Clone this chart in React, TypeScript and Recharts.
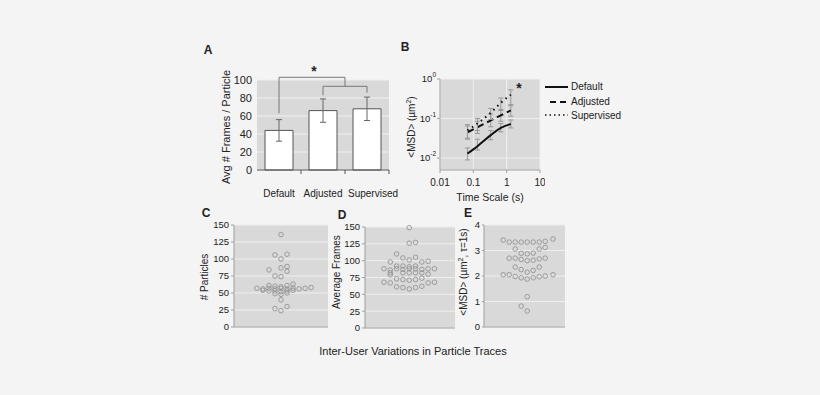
import React from "react";
import {
  Bar,
  BarChart,
  CartesianGrid,
  ErrorBar,
  Line,
  LineChart,
  ReferenceLine,
  Scatter,
  ScatterChart,
  XAxis,
  YAxis,
} from "recharts";

const FONT = '"Liberation Sans", Arial, Helvetica, sans-serif';
const PLOT_BG = "#d9d9d9";
const GRID = "#efefef";
const INK = "#222";

// Panel A: average frames per particle
const methods = ["Default", "Adjusted", "Supervised"];
const avgFrames = [44, 66, 68];
const avgFramesErr = [12, 13, 13];
const framesTicks = [0, 20, 40, 60, 80, 100];

// Panel B: MSD vs time scale
const timeScale = [0.0667, 0.133, 0.333, 0.667, 1.333];
const msdDefault = [0.013, 0.02, 0.038, 0.058, 0.073];
const msdDefaultLow = [0.009, 0.016, 0.029, 0.046, 0.058];
const msdDefaultHigh = [0.018, 0.03, 0.05, 0.075, 0.092];
const msdAdjusted = [0.045, 0.06, 0.09, 0.12, 0.16];
const msdAdjustedLow = [0.03, 0.042, 0.062, 0.085, 0.115];
const msdAdjustedHigh = [0.065, 0.085, 0.13, 0.17, 0.225];
const msdSupervised = [0.05, 0.075, 0.14, 0.25, 0.4];
const msdSupervisedLow = [0.032, 0.05, 0.095, 0.16, 0.21];
const msdSupervisedHigh = [0.07, 0.1, 0.18, 0.33, 0.53];
const timeTicks = [0.01, 0.1, 1, 10];
const msdTicks = [0.01, 0.1, 1];

// Panel C: number of particles per user (swarm offset, value)
const particlesOffset = [0, -1, 0, 1, -2, 0, 1, 1, -1, 0, -2, -1, 0, 1, 2, -4, -3, -2, -1, 0, 1, 2, 3, 4, 5, -3, -2, -1, 0, 1, 2, -1, 0, 1, 0, -1, 0, 1];
const particlesCount = [136, 106, 100, 107, 84, 87, 89, 82, 75, 74, 61, 60, 59, 61, 63, 57, 56, 57, 56, 57, 56, 57, 56, 57, 58, 54, 53, 53, 52, 53, 54, 49, 48, 50, 40, 27, 24, 30];
const particlesTicks = [0, 25, 50, 75, 100, 125, 150];

// Panel D: average frames per user
const framesOffset = [0, 0, 1, -2, -1, 0, 1, -3, 2, 3, -2, -1, 0, 1, -4, -3, -2, -1, 0, 1, 2, 3, 4, -3, -1, 0, 1, 2, -3, 3, -2, -1, 0, 1, 2, -4, -3, 3, 4, -2, -1, 0, 1, 2];
const framesPerUser = [149, 126, 127, 110, 104, 101, 105, 98, 98, 99, 92, 92, 91, 92, 88, 86, 88, 87, 88, 88, 87, 88, 88, 82, 82, 82, 82, 82, 79, 80, 73, 72, 71, 72, 74, 68, 67, 67, 68, 61, 60, 58, 60, 62];
const framesUserTicks = [0, 25, 50, 75, 100, 125, 150];

// Panel E: MSD at tau = 1 s per user
const msdOffset = [-4, -3, -2, -1, 0, 1, 2, 3, 4.3, -2, -1, 0, 1, 2, 3, -3, -2, -1, 0, 1, 2, 3, -2, -1, 0, 1, 2, -4, -3, -2, -1, 0, 1, 2, 3, 4.3, 0, -1, 0];
const msdPerUser = [3.41, 3.33, 3.33, 3.33, 3.33, 3.33, 3.33, 3.36, 3.45, 3.06, 2.89, 2.87, 2.9, 3.06, 3.12, 2.7, 2.7, 2.65, 2.6, 2.62, 2.67, 2.7, 2.35, 2.25, 2.15, 2.22, 2.35, 2.05, 2.05, 1.98, 1.93, 1.88, 1.93, 1.97, 2.0, 2.05, 1.19, 0.82, 0.63];
const msdUserTicks = [0, 1, 2, 3, 4];

const barData = methods.map((name, i) => ({ idx: i, name, frames: avgFrames[i], err: avgFramesErr[i] }));

const msdData = timeScale.map((t, i) => ({
  t,
  def: msdDefault[i],
  eDef: [msdDefault[i] - msdDefaultLow[i], msdDefaultHigh[i] - msdDefault[i]],
  adj: msdAdjusted[i],
  eAdj: [msdAdjusted[i] - msdAdjustedLow[i], msdAdjustedHigh[i] - msdAdjusted[i]],
  sup: msdSupervised[i],
  eSup: [msdSupervised[i] - msdSupervisedLow[i], msdSupervisedHigh[i] - msdSupervised[i]],
}));

const swarm = (offsets: number[], values: number[]) => offsets.map((x, i) => ({ x, y: values[i] }));

function Txt({ x, y, children, size = 10, bold = false, rotate = false, anchor = "center" }: any) {
  const tx = anchor === "left" ? "0" : "-50%";
  return (
    <div
      style={{
        position: "absolute",
        left: x,
        top: y,
        transform: `translate(${tx}, -50%)${rotate ? " rotate(-90deg)" : ""}`,
        fontSize: size,
        fontWeight: bold ? 700 : 400,
        whiteSpace: "nowrap",
        color: INK,
        lineHeight: 1,
      }}
    >
      {children}
    </div>
  );
}

function MethodTick({ x, y, payload }: any) {
  const v = payload.value;
  if (v % 1 !== 0) return <line x1={x} x2={x} y1={y} y2={y + 4} stroke="#555" />;
  return (
    <text x={x + (v === 2 ? 6 : 0)} y={y + 27} textAnchor="middle" fontSize={10} fill={INK} fontFamily={FONT}>
      {methods[v]}
    </text>
  );
}

function TimeTick({ x, y, payload }: any) {
  return (
    <text x={x} y={y + 13} textAnchor="middle" fontSize={10} fill={INK} fontFamily={FONT}>
      {payload.value}
    </text>
  );
}

function PowTick({ x, y, payload }: any) {
  const exp = Math.round(Math.log10(payload.value));
  return (
    <text x={x} y={y + 3} textAnchor="end" fontSize={9.5} fill={INK} fontFamily={FONT}>
      10
      <tspan dy={-5} fontSize={6.5}>
        {exp}
      </tspan>
    </text>
  );
}

const ring = (p: any) => <circle cx={p.cx} cy={p.cy} r={2.3} fill="none" stroke="#8c8c8c" strokeWidth={0.8} />;

const bracket = { stroke: "#777", strokeWidth: 1, ifOverflow: "visible" as const };

function SwarmPanel({ left, top, width, height, data, domain, ticks, tickSize = 3 }: any) {
  return (
    <div style={{ position: "absolute", left, top }}>
      <ScatterChart width={width} height={height + 8} margin={{ top: 8, right: 0, bottom: 8, left: 0 }}>
        <CartesianGrid fill={PLOT_BG} stroke={GRID} vertical={false} />
        <XAxis type="number" dataKey="x" domain={domain} allowDataOverflow tick={false} tickLine={false} axisLine={{ stroke: "#a0a0a0" }} height={1} />
        <YAxis
          type="number"
          dataKey="y"
          domain={[ticks[0], ticks[ticks.length - 1]]}
          ticks={ticks}
          interval={0}
          width={30}
          tick={{ fontSize: 9.5, fill: INK, fontFamily: FONT }}
          tickSize={tickSize}
          tickMargin={2}
          tickLine={{ stroke: "#a0a0a0" }}
          axisLine={{ stroke: "#a0a0a0" }}
        />
        <Scatter data={data} shape={ring} isAnimationActive={false} />
      </ScatterChart>
    </div>
  );
}

export default function App() {
  return (
    <div
      style={{
        position: "fixed",
        left: 0,
        top: 0,
        width: 820,
        height: 395,
        background: "#f4f4f4",
        fontFamily: FONT,
        overflow: "hidden",
      }}
    >
      {/* A */}
      <Txt x={208} y={50} size={12} bold>A</Txt>
      <Txt x={226} y={127} size={11} rotate>Avg # Frames / Particle</Txt>
      <div style={{ position: "absolute", left: 217, top: 68 }}>
        <BarChart width={182} height={137} data={barData} margin={{ top: 12, right: 10, bottom: 0, left: 0 }}>
          <CartesianGrid fill={PLOT_BG} stroke={GRID} vertical={false} />
          <XAxis
            type="number"
            dataKey="idx"
            domain={[-0.5, 2.5]}
            ticks={[0, 0.5, 1, 1.5, 2, 2.5]}
            tick={<MethodTick />}
            tickSize={0}
            tickMargin={0}
            tickLine={false}
            axisLine={{ stroke: "#555" }}
            height={35}
          />
          <YAxis
            domain={[0, 100]}
            ticks={framesTicks}
            interval={0}
            width={40}
            tick={{ fontSize: 11, fill: INK, fontFamily: FONT }}
            tickSize={0}
            tickMargin={5}
            axisLine={false}
          />
          <Bar dataKey="frames" fill="#fff" stroke="#555" strokeWidth={1} barSize={28} isAnimationActive={false}>
            <ErrorBar dataKey="err" width={3} stroke="#666" strokeWidth={1} direction="y" />
          </Bar>
          <ReferenceLine segment={[{ x: 0, y: 63 }, { x: 0, y: 103 }]} {...bracket} />
          <ReferenceLine segment={[{ x: 0, y: 103 }, { x: 1.5, y: 103 }]} {...bracket} />
          <ReferenceLine segment={[{ x: 1.5, y: 103 }, { x: 1.5, y: 93 }]} {...bracket} />
          <ReferenceLine segment={[{ x: 1, y: 93 }, { x: 2, y: 93 }]} {...bracket} />
          <ReferenceLine segment={[{ x: 1, y: 93 }, { x: 1, y: 83 }]} {...bracket} />
          <ReferenceLine segment={[{ x: 2, y: 93 }, { x: 2, y: 86 }]} {...bracket} />
        </BarChart>
      </div>
      <Txt x={314} y={71} size={14} bold>*</Txt>

      {/* B */}
      <Txt x={405} y={47} size={12} bold>B</Txt>
      <Txt x={412} y={127} size={10} rotate>
        &lt;MSD&gt; (µm<sup style={{ fontSize: 7, lineHeight: 0 }}>2</sup>)
      </Txt>
      <div style={{ position: "absolute", left: 400, top: 69 }}>
        <LineChart width={145} height={131} data={msdData} margin={{ top: 10, right: 5, bottom: 0, left: 0 }}>
          <CartesianGrid fill={PLOT_BG} stroke={GRID} />
          <XAxis
            type="number"
            dataKey="t"
            scale="log"
            domain={[0.01, 10]}
            ticks={timeTicks}
            interval={0}
            tick={<TimeTick />}
            tickSize={3}
            tickMargin={0}
            tickLine={{ stroke: "#a0a0a0" }}
            axisLine={{ stroke: "#a0a0a0" }}
            height={30}
          />
          <YAxis
            type="number"
            scale="log"
            domain={[0.005, 1]}
            ticks={msdTicks}
            interval={0}
            tick={<PowTick />}
            width={40}
            tickSize={3}
            tickMargin={1}
            tickLine={{ stroke: "#a0a0a0" }}
            axisLine={{ stroke: "#a0a0a0" }}
            allowDataOverflow
          />
          <Line type="monotone" dataKey="def" stroke="#111" strokeWidth={2} dot={false} isAnimationActive={false}>
            <ErrorBar dataKey="eDef" width={2.5} stroke="#999" strokeWidth={1} direction="y" />
          </Line>
          <Line type="monotone" dataKey="adj" stroke="#111" strokeWidth={2} strokeDasharray="7 4" dot={false} isAnimationActive={false}>
            <ErrorBar dataKey="eAdj" width={2.5} stroke="#999" strokeWidth={1} direction="y" />
          </Line>
          <Line type="monotone" dataKey="sup" stroke="#111" strokeWidth={2} strokeDasharray="1.5 4" dot={false} isAnimationActive={false}>
            <ErrorBar dataKey="eSup" width={2.5} stroke="#999" strokeWidth={1} direction="y" />
          </Line>
        </LineChart>
      </div>
      <Txt x={519} y={88} size={14} bold>*</Txt>
      <Txt x={490} y={197} size={10.5}>Time Scale (s)</Txt>
      <svg style={{ position: "absolute", left: 543, top: 78 }} width={28} height={44}>
        <line x1={2} x2={25} y1={9} y2={9} stroke="#111" strokeWidth={2} />
        <line x1={7} x2={25} y1={24} y2={24} stroke="#111" strokeWidth={2} strokeDasharray="6 4" />
        <line x1={2} x2={25} y1={37} y2={37} stroke="#111" strokeWidth={1.5} strokeDasharray="1.5 3" />
      </svg>
      <Txt x={571} y={87} size={10} anchor="left">Default</Txt>
      <Txt x={571} y={102} size={10} anchor="left">Adjusted</Txt>
      <Txt x={571} y={116} size={10} anchor="left">Supervised</Txt>

      {/* C */}
      <Txt x={206} y={213} size={12} bold>C</Txt>
      <Txt x={205} y={277} size={10} rotate># Particles</Txt>
      <SwarmPanel left={204} top={217} width={124} height={111} data={swarm(particlesOffset, particlesCount)} domain={[-7.8, 7.8]} ticks={particlesTicks} />

      {/* D */}
      <Txt x={342} y={215} size={12} bold>D</Txt>
      <Txt x={337} y={272} size={10} rotate>Average Frames</Txt>
      <SwarmPanel left={335} top={219} width={120} height={110} data={swarm(framesOffset, framesPerUser)} domain={[-7, 7.25]} ticks={framesUserTicks} />

      {/* E */}
      <Txt x={468} y={213} size={12} bold>E</Txt>
      <Txt x={464} y={272} size={10} rotate>
        &lt;MSD&gt; (µm<sup style={{ fontSize: 7, lineHeight: 0 }}>2</sup>, τ=1s)
      </Txt>
      <SwarmPanel left={454} top={217} width={111} height={111} data={swarm(msdOffset, msdPerUser)} domain={[-7.2, 6.3]} ticks={msdUserTicks} tickSize={2} />

      <Txt x={413} y={351} size={11}>Inter-User Variations in Particle Traces</Txt>
    </div>
  );
}
